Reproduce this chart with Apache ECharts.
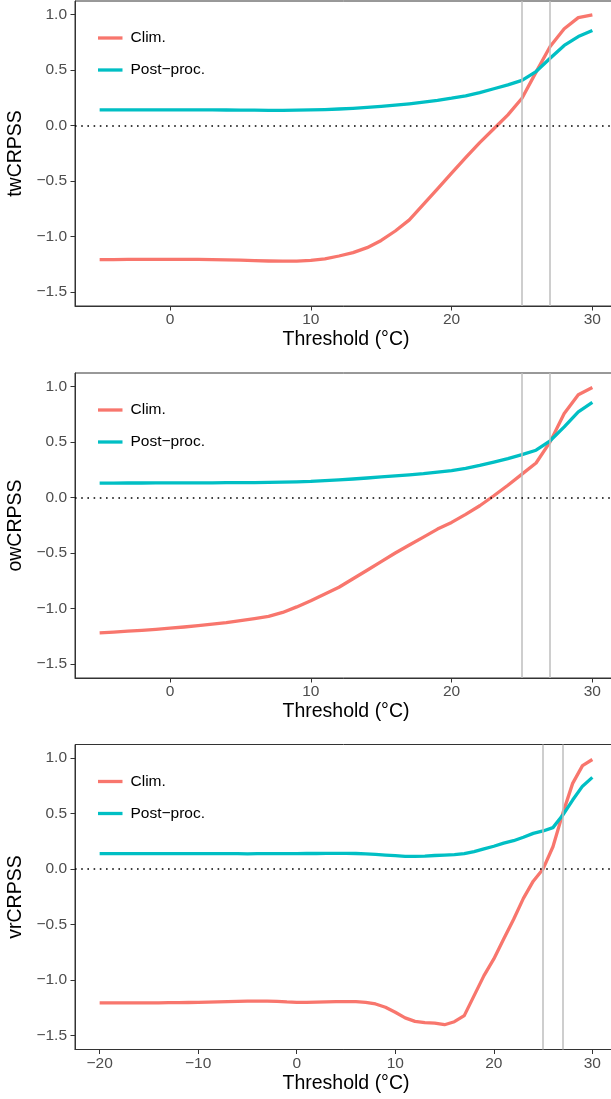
<!DOCTYPE html>
<html>
<head>
<meta charset="utf-8">
<script src="https://cdn.jsdelivr.net/npm/echarts@6/dist/echarts.min.js"></script>
<style>
  html, body { margin: 0; padding: 0; background: #ffffff; }
  #chart { width: 611px; height: 1099px; }
</style>
</head>
<body>
<div id="chart"></div>
<script>
// Thresholds (°C)
const thresholdsShort = [-5,-4,-3,-2,-1,0,1,2,3,4,5,6,7,8,9,10,11,12,13,14,15,16,17,18,19,20,21,22,23,24,25,26,27,28,29,30];
const thresholdsLong = [-20,-19,-18,-17,-16,-15,-14,-13,-12,-11,-10,-9,-8,-7,-6,-5,-4,-3,-2,-1,0,1,2,3,4,5,6,7,8,9,10,11,12,13,14,15,16,17,18,19,20,21,22,23,24,25,26,27,28,29,30];

// twCRPSS
const twClim = [-1.207,-1.207,-1.206,-1.205,-1.205,-1.205,-1.205,-1.205,-1.207,-1.210,-1.213,-1.217,-1.220,-1.222,-1.222,-1.215,-1.200,-1.175,-1.145,-1.100,-1.035,-0.950,-0.850,-0.710,-0.570,-0.430,-0.290,-0.155,-0.030,0.095,0.245,0.480,0.710,0.870,0.970,0.995];
const twPost = [0.141,0.141,0.141,0.141,0.141,0.141,0.141,0.140,0.140,0.139,0.138,0.137,0.136,0.136,0.137,0.140,0.143,0.148,0.154,0.162,0.171,0.182,0.195,0.210,0.226,0.245,0.267,0.295,0.330,0.365,0.405,0.485,0.605,0.720,0.800,0.855];

// owCRPSS
const owClim = [-1.219,-1.212,-1.204,-1.196,-1.187,-1.177,-1.166,-1.154,-1.141,-1.126,-1.108,-1.090,-1.070,-1.035,-0.985,-0.930,-0.870,-0.808,-0.732,-0.655,-0.578,-0.500,-0.428,-0.357,-0.285,-0.225,-0.152,-0.075,0.015,0.110,0.210,0.310,0.500,0.755,0.925,0.990];
const owPost = [0.129,0.129,0.130,0.130,0.131,0.131,0.132,0.132,0.132,0.133,0.133,0.134,0.135,0.137,0.140,0.144,0.151,0.158,0.166,0.175,0.185,0.195,0.204,0.214,0.227,0.241,0.262,0.288,0.318,0.350,0.385,0.425,0.510,0.635,0.770,0.855];

// vrCRPSS
const vrClim = [-1.206,-1.206,-1.206,-1.206,-1.205,-1.205,-1.205,-1.204,-1.203,-1.202,-1.200,-1.199,-1.197,-1.195,-1.192,-1.190,-1.189,-1.189,-1.192,-1.197,-1.200,-1.200,-1.199,-1.197,-1.195,-1.194,-1.195,-1.200,-1.215,-1.245,-1.290,-1.340,-1.372,-1.384,-1.388,-1.402,-1.375,-1.320,-1.140,-0.960,-0.810,-0.630,-0.455,-0.265,-0.110,0.000,0.200,0.500,0.770,0.930,0.985];
const vrPost = [0.137,0.137,0.137,0.137,0.137,0.137,0.137,0.137,0.137,0.137,0.137,0.137,0.137,0.137,0.137,0.136,0.137,0.137,0.138,0.138,0.138,0.139,0.139,0.140,0.140,0.140,0.139,0.136,0.131,0.125,0.119,0.114,0.113,0.115,0.121,0.125,0.129,0.138,0.156,0.180,0.204,0.232,0.254,0.285,0.320,0.342,0.372,0.485,0.620,0.745,0.824];

// Reference thresholds marked by vertical lines, and zero-skill line
const refThresholds = [25, 27];
const yTicks = [-1.5, -1.0, -0.5, 0.0, 0.5, 1.0];
const xTicksShort = [0, 10, 20, 30];
const xTicksLong = [-20, -10, 0, 10, 20, 30];

const seriesNames = ['Clim.', 'Post\u2212proc.'];
const colors = ['#F8766D', '#00BFC4'];

const panels = [
  { ylab: 'twCRPSS', x: thresholdsShort, clim: twClim, post: twPost, xmin: -6.75, xmax: 31.75, xticks: xTicksShort, top: 1 },
  { ylab: 'owCRPSS', x: thresholdsShort, clim: owClim, post: owPost, xmin: -6.75, xmax: 31.75, xticks: xTicksShort, top: 373 },
  { ylab: 'vrCRPSS', x: thresholdsLong, clim: vrClim, post: vrPost, xmin: -22.5, xmax: 32.5, xticks: xTicksLong, top: 744.5 }
];

const PANEL_H = 305;
const FONT = 'Liberation Sans, Arial, Helvetica, sans-serif';
const minus = s => String(s).replace('-', '\u2212');

const option = {
  animation: false,
  backgroundColor: '#ffffff',
  grid: [], xAxis: [], yAxis: [], series: [], legend: []
};

panels.forEach((p, i) => {
  // the panel runs slightly past the right edge of the canvas
  option.grid.push({
    left: 75, top: p.top, width: 542, height: PANEL_H,
    containLabel: false, outerBoundsMode: 'none',
    show: true, borderColor: '#333333', borderWidth: 1, backgroundColor: 'transparent'
  });
  option.xAxis.push({
    type: 'value', gridIndex: i, min: p.xmin, max: p.xmax,
    name: 'Threshold (\u00B0C)', nameLocation: 'middle', nameGap: 24,
    nameTextStyle: { color: '#000000', fontSize: 19.5, fontFamily: FONT },
    splitLine: { show: false },
    axisLine: { show: true, onZero: false, lineStyle: { color: '#333333', width: 1 } },
    axisTick: { show: true, length: 4.5, customValues: p.xticks, lineStyle: { color: '#333333', width: 1 } },
    axisLabel: { customValues: p.xticks, margin: 6, color: '#4D4D4D', fontSize: 15.5, fontFamily: FONT, formatter: v => minus(v) }
  });
  option.yAxis.push({
    type: 'value', gridIndex: i, min: -1.625, max: 1.12,
    name: p.ylab, nameLocation: 'middle', nameGap: 46, nameRotate: 90,
    nameTextStyle: { color: '#000000', fontSize: 19.5, fontFamily: FONT },
    splitLine: { show: false },
    axisLine: { show: true, onZero: false, lineStyle: { color: '#333333', width: 1 } },
    axisTick: { show: true, length: 4.5, customValues: yTicks, lineStyle: { color: '#333333', width: 1 } },
    axisLabel: { customValues: yTicks, margin: 8, color: '#4D4D4D', fontSize: 15.5, fontFamily: FONT, formatter: v => minus(v.toFixed(1)) }
  });
  // reference lines sit beneath the curves
  option.series.push({
    type: 'line', xAxisIndex: i, yAxisIndex: i, data: [], z: 1, silent: true,
    markLine: {
      silent: true, symbol: 'none', label: { show: false }, animation: false,
      data: [
        ...refThresholds.map(t => ({ xAxis: t, lineStyle: { color: '#BEBEBE', width: 1.5, type: 'solid' } })),
        { yAxis: 0, lineStyle: { color: '#000000', width: 1.6, type: [1.6, 4.6], cap: 'butt' } }
      ]
    }
  });
  [p.clim, p.post].forEach((vals, k) => {
    option.series.push({
      name: seriesNames[k], type: 'line', xAxisIndex: i, yAxisIndex: i, z: 3,
      showSymbol: false, symbol: 'none', smooth: false,
      lineStyle: { color: colors[k], width: 3.3, cap: 'butt', join: 'round' },
      itemStyle: { color: colors[k] },
      data: p.x.map((t, j) => [t, vals[j]])
    });
  });
  option.legend.push({
    data: seriesNames, orient: 'vertical', left: 93, top: p.top + 24,
    icon: 'rect', itemWidth: 24.5, itemHeight: 3.3, itemGap: 16,
    selectedMode: false,
    textStyle: { color: '#000000', fontSize: 15.5, fontFamily: FONT, padding: [0, 0, 0, 3] }
  });
});

const chart = echarts.init(document.getElementById('chart'), null, { renderer: 'canvas' });
chart.setOption(option);
</script>
</body>
</html>
